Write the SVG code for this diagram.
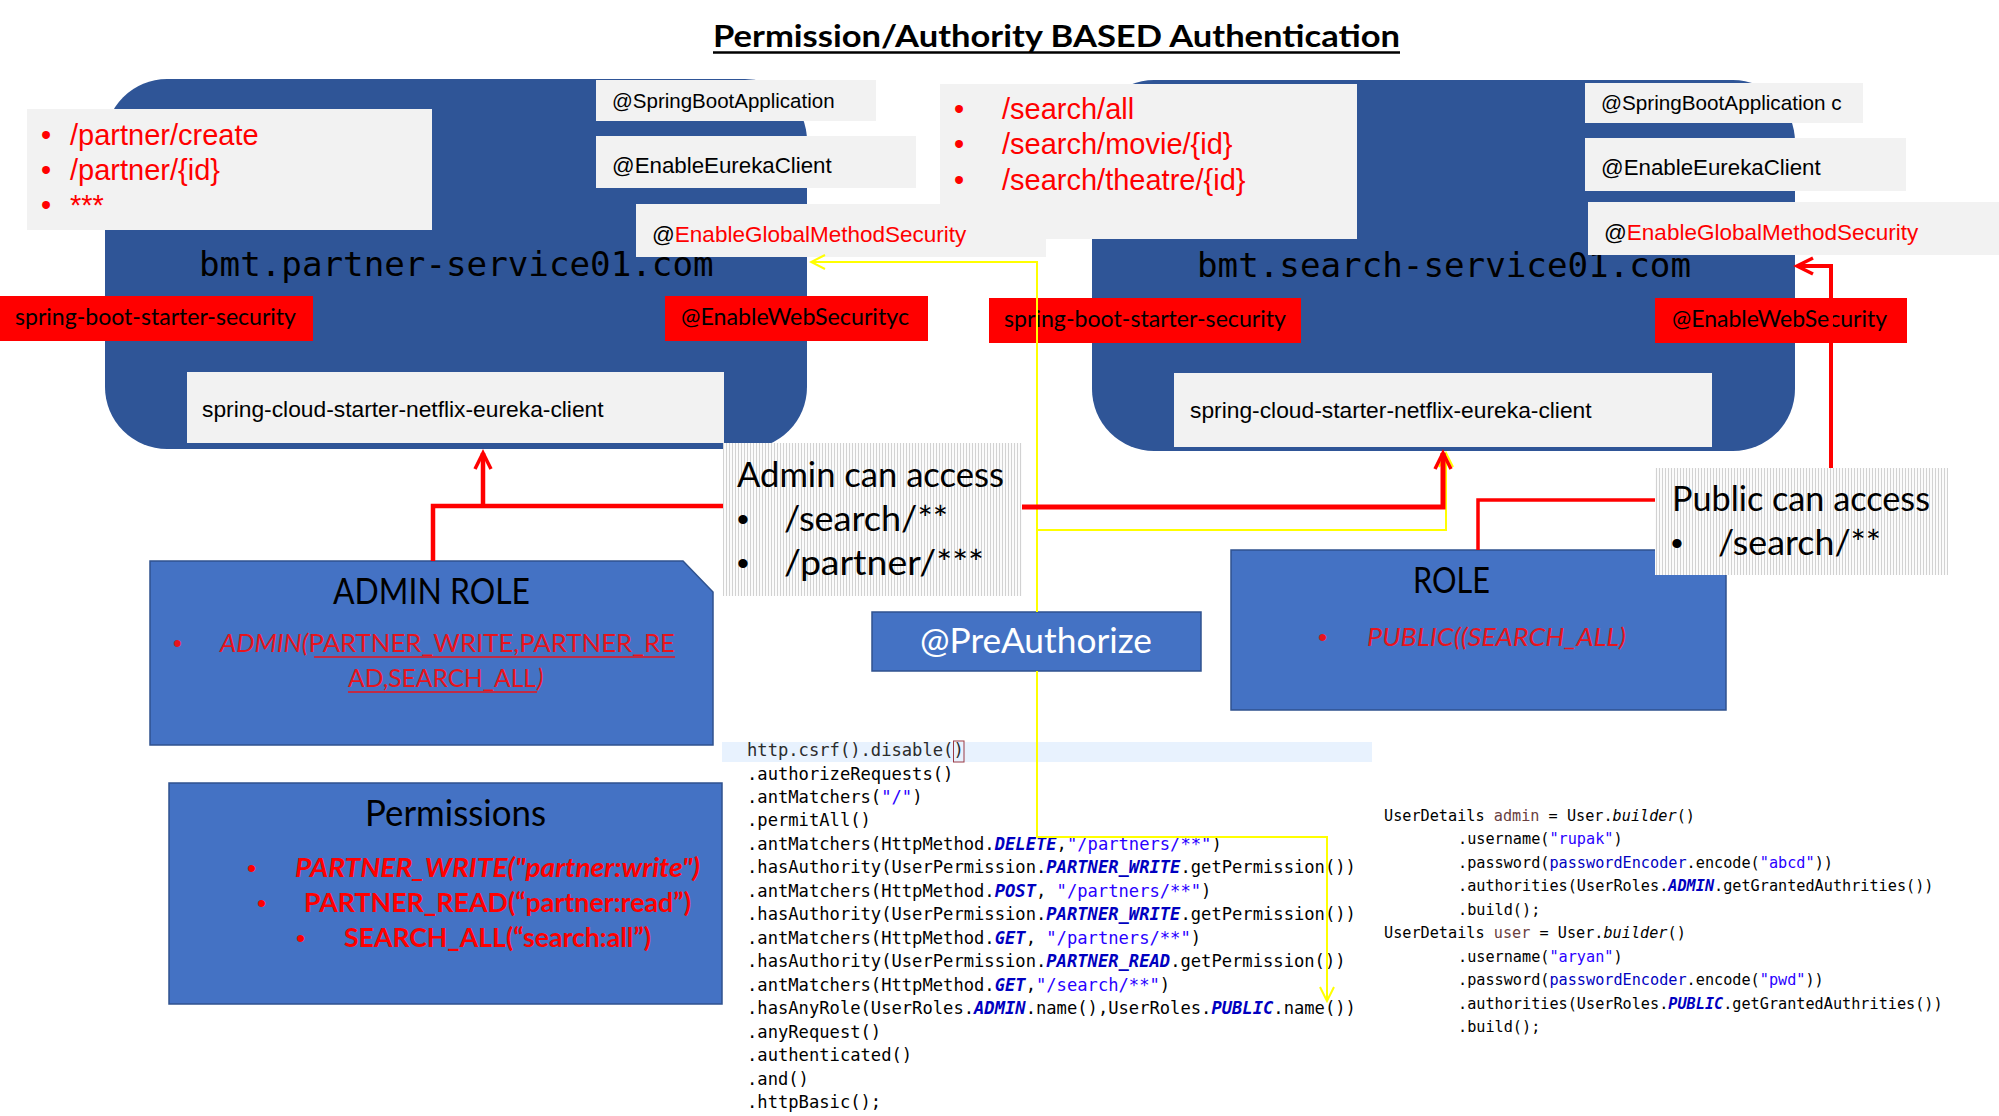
<svg xmlns="http://www.w3.org/2000/svg" width="1999" height="1116" viewBox="0 0 1999 1116">
<style>
.cal{font-family:Lato,"Open Sans","Liberation Sans",sans-serif}
.ari{font-family:"Liberation Sans",Arial,sans-serif}
.mono{font-family:"DejaVu Sans Mono","Liberation Mono",monospace}
.svc{fill:#2F5597}
.gray{fill:#F2F2F2}
.redbox{fill:#FF0000}
.role{fill:#4472C4;stroke:#2F528F;stroke-width:1.5}
.c1{font-family:"DejaVu Sans Mono","Liberation Mono",monospace;font-size:17.15px;fill:#000}
.c2{font-family:"DejaVu Sans Mono","Liberation Mono",monospace;font-size:15.2px;fill:#000}
.s{fill:#2A00FF}
.k{fill:#0000C0;font-style:italic;font-weight:bold}
.v{fill:#6A3E3E}
.f{fill:#0000C0}
.it{font-style:italic}
.rl{fill:none;stroke:#FF0000}
.yl{fill:none;stroke:#FFFF00;stroke-width:2}
</style>
<defs>
<pattern id="hatch" width="3" height="4" patternUnits="userSpaceOnUse"><rect width="3" height="4" fill="#fbfbfb"/><rect width="1" height="4" fill="#d2d2d2"/></pattern>
<marker id="arR" viewBox="-20 -12 24 24" refX="0" refY="0" markerWidth="24" markerHeight="24" markerUnits="userSpaceOnUse" orient="auto"><path d="M-16,-8 L0,0 L-16,8" fill="none" stroke="#FF0000" stroke-width="3.5"/></marker>
<marker id="arY" viewBox="-18 -10 20 20" refX="0" refY="0" markerWidth="20" markerHeight="20" markerUnits="userSpaceOnUse" orient="auto"><path d="M-14,-7 L0,0 L-14,7" fill="none" stroke="#FFFF00" stroke-width="2"/></marker>
</defs>
<rect width="1999" height="1116" fill="#FFFFFF"/>

<g id="title">
<text x="713" y="47" class="cal" font-size="31" font-weight="bold" textLength="687" lengthAdjust="spacingAndGlyphs">Permission/Authority BASED Authentication</text>
<line x1="713" y1="52.5" x2="1400" y2="52.5" stroke="#000" stroke-width="2.5"/>
</g>

<g id="partner-service">
<rect class="svc" x="105" y="79" width="702" height="370" rx="62"/>
<text x="199" y="276" class="mono" font-size="34.2" fill="#000">bmt.partner-service01.com</text>
</g>

<g id="search-service">
<rect class="svc" x="1092" y="80" width="703" height="371" rx="62"/>
<text x="1197" y="277" class="mono" font-size="34.2" fill="#000">bmt.search-service01.com</text>
</g>

<g id="partner-endpoints">
<rect class="gray" x="27" y="109" width="405" height="121"/>
<g class="ari" font-size="29" fill="#FF0000">
<text x="41" y="145">•</text><text x="70" y="145">/partner/create</text>
<text x="41" y="180">•</text><text x="70" y="180">/partner/{id}</text>
<text x="41" y="215">•</text><text x="70" y="215">***</text>
</g>
</g>

<g id="search-endpoints">
<rect class="gray" x="940" y="84" width="417" height="155"/>
<g class="ari" font-size="29" fill="#FF0000">
<text x="954" y="119">•</text><text x="1002" y="119">/search/all</text>
<text x="954" y="154">•</text><text x="1002" y="154">/search/movie/{id}</text>
<text x="954" y="190">•</text><text x="1002" y="190">/search/theatre/{id}</text>
</g>
</g>

<g id="partner-springboot">
<rect class="gray" x="596" y="80" width="280" height="41"/>
<text x="612" y="108" class="ari" font-size="20.5">@SpringBootApplication</text>
</g>
<g id="partner-eureka-annot">
<rect class="gray" x="596" y="136" width="320" height="52"/>
<text x="612" y="173" class="ari" font-size="22.3">@EnableEurekaClient</text>
</g>
<g id="partner-globalmethod">
<rect class="gray" x="636" y="204" width="410" height="53"/>
<text x="652" y="242" class="ari" font-size="22.5">@<tspan fill="#FF0000">EnableGlobalMethodSecurity</tspan></text>
</g>
<g id="partner-starter-security">
<rect class="redbox" x="0" y="296" width="313" height="45"/>
<text x="15" y="325" class="cal" font-size="24" textLength="281" lengthAdjust="spacingAndGlyphs">spring-boot-starter-security</text>
</g>
<g id="partner-websecurity">
<rect class="redbox" x="665" y="296" width="263" height="45"/>
<text x="681" y="325" class="cal" font-size="24" textLength="228" lengthAdjust="spacingAndGlyphs">@EnableWebSecurityc</text>
</g>
<g id="partner-eureka-client">
<rect class="gray" x="187" y="372" width="537" height="71"/>
<text x="202" y="417" class="ari" font-size="22.8">spring-cloud-starter-netflix-eureka-client</text>
</g>

<g id="search-springboot">
<rect class="gray" x="1585" y="83" width="278" height="40"/>
<text x="1601" y="110" class="ari" font-size="20.7">@SpringBootApplication c</text>
</g>
<g id="search-eureka-annot">
<rect class="gray" x="1585" y="138" width="321" height="53"/>
<text x="1601" y="175" class="ari" font-size="22.3">@EnableEurekaClient</text>
</g>
<g id="search-globalmethod">
<rect class="gray" x="1588" y="202" width="411" height="53"/>
<text x="1604" y="240" class="ari" font-size="22.5">@<tspan fill="#FF0000">EnableGlobalMethodSecurity</tspan></text>
</g>
<g id="search-starter-security">
<rect class="redbox" x="989" y="298" width="312" height="45"/>
<text x="1004" y="327" class="cal" font-size="24" textLength="282" lengthAdjust="spacingAndGlyphs">spring-boot-starter-security</text>
</g>
<g id="search-websecurity">
<rect class="redbox" x="1655" y="298" width="252" height="45"/>
<text x="1672" y="327" class="cal" font-size="24" textLength="215" lengthAdjust="spacingAndGlyphs">@EnableWebSecurity</text>
</g>
<g id="search-eureka-client">
<rect class="gray" x="1174" y="373" width="538" height="74"/>
<text x="1190" y="418" class="ari" font-size="22.8">spring-cloud-starter-netflix-eureka-client</text>
</g>

<g id="admin-access">
<rect x="723" y="443" width="299" height="153" fill="url(#hatch)"/>
<text x="737" y="487" class="cal" font-size="35" textLength="267" lengthAdjust="spacingAndGlyphs">Admin can access</text>
<text x="737" y="531" class="ari" font-size="34">•</text>
<text x="784" y="531" class="cal" font-size="35" textLength="164" lengthAdjust="spacingAndGlyphs">/search/**</text>
<text x="737" y="575" class="ari" font-size="34">•</text>
<text x="784" y="575" class="cal" font-size="35" textLength="200" lengthAdjust="spacingAndGlyphs">/partner/***</text>
</g>

<g id="admin-role">
<polygon class="role" points="150,561 683,561 713,592 713,745 150,745"/>
<text x="333" y="604" class="cal" font-size="36" textLength="197" lengthAdjust="spacingAndGlyphs">ADMIN ROLE</text>
<text x="173" y="652" class="ari" font-size="25" fill="#E8141C">•</text>
<text x="220" y="652" class="cal" font-size="25" fill="#E8141C" textLength="455" lengthAdjust="spacingAndGlyphs"><tspan font-style="italic">ADMIN(</tspan>PARTNER_WRITE,PARTNER_RE</text>
<line x1="314" y1="657" x2="675" y2="657" stroke="#E8141C" stroke-width="1.6"/>
<text x="348" y="687" class="cal" font-size="25" fill="#E8141C" textLength="188" lengthAdjust="spacingAndGlyphs">AD,SEARCH_ALL</text>
<text x="537" y="687" class="cal" font-size="25" fill="#E8141C" font-style="italic">)</text>
<line x1="348" y1="692" x2="537" y2="692" stroke="#E8141C" stroke-width="1.6"/>
</g>

<g id="permissions">
<rect class="role" x="169" y="783" width="553" height="221"/>
<text x="365" y="826" class="cal" font-size="36" textLength="181" lengthAdjust="spacingAndGlyphs">Permissions</text>
<g fill="#FF0000">
<text x="247" y="877" class="ari" font-size="26">•</text>
<text x="295" y="877" class="cal" font-size="27" font-weight="bold" font-style="italic" textLength="405" lengthAdjust="spacingAndGlyphs">PARTNER_WRITE("partner:write")</text>
<text x="257" y="912" class="ari" font-size="26">•</text>
<text x="304" y="912" class="cal" font-size="27" font-weight="bold" textLength="387" lengthAdjust="spacingAndGlyphs">PARTNER_READ(“partner:read”)</text>
<text x="296" y="947" class="ari" font-size="26">•</text>
<text x="344" y="947" class="cal" font-size="27" font-weight="bold" textLength="307" lengthAdjust="spacingAndGlyphs">SEARCH_ALL(“search:all”)</text>
</g>
</g>

<g id="preauthorize">
<rect class="role" x="872" y="612" width="329" height="59"/>
<text x="920" y="653" class="cal" font-size="34" fill="#FFFFFF" textLength="232" lengthAdjust="spacingAndGlyphs">@PreAuthorize</text>
</g>

<g id="public-role">
<rect class="role" x="1231" y="550" width="495" height="160"/>
<text x="1413" y="593" class="cal" font-size="36" textLength="77" lengthAdjust="spacingAndGlyphs">ROLE</text>
<text x="1318" y="646" class="ari" font-size="26" fill="#E8141C">•</text>
<text x="1367" y="646" class="cal" font-size="26" font-style="italic" fill="#E8141C" textLength="259" lengthAdjust="spacingAndGlyphs">PUBLIC((SEARCH_ALL)</text>
</g>

<g id="public-access">
<rect x="1655" y="468" width="293" height="107" fill="url(#hatch)"/>
<text x="1672" y="511" class="cal" font-size="35" textLength="258" lengthAdjust="spacingAndGlyphs">Public can access</text>
<text x="1671" y="555" class="ari" font-size="34">•</text>
<text x="1718" y="555" class="cal" font-size="35" textLength="163" lengthAdjust="spacingAndGlyphs">/search/**</text>
</g>

<g id="security-config-code">
<rect x="722" y="742" width="650" height="20" fill="#E8F2FE"/>
<rect x="953.5" y="741" width="10.5" height="21" fill="none" stroke="#9A3A46" stroke-width="1"/>
<g class="c1" xml:space="preserve">
<text x="747" y="756" fill="#2b2b2b">http.csrf().disable()</text>
<text x="747" y="779.5">.authorizeRequests()</text>
<text x="747" y="802.9">.antMatchers(<tspan class="s">"/"</tspan>)</text>
<text x="747" y="826.4">.permitAll()</text>
<text x="747" y="849.9">.antMatchers(HttpMethod.<tspan class="k">DELETE</tspan>,<tspan class="s">"/partners/**"</tspan>)</text>
<text x="747" y="873.4">.hasAuthority(UserPermission.<tspan class="k">PARTNER_WRITE</tspan>.getPermission())</text>
<text x="747" y="896.8">.antMatchers(HttpMethod.<tspan class="k">POST</tspan>, <tspan class="s">"/partners/**"</tspan>)</text>
<text x="747" y="920.3">.hasAuthority(UserPermission.<tspan class="k">PARTNER_WRITE</tspan>.getPermission())</text>
<text x="747" y="943.8">.antMatchers(HttpMethod.<tspan class="k">GET</tspan>, <tspan class="s">"/partners/**"</tspan>)</text>
<text x="747" y="967.2">.hasAuthority(UserPermission.<tspan class="k">PARTNER_READ</tspan>.getPermission())</text>
<text x="747" y="990.7">.antMatchers(HttpMethod.<tspan class="k">GET</tspan>,<tspan class="s">"/search/**"</tspan>)</text>
<text x="747" y="1014.2">.hasAnyRole(UserRoles.<tspan class="k">ADMIN</tspan>.name(),UserRoles.<tspan class="k">PUBLIC</tspan>.name())</text>
<text x="747" y="1037.6">.anyRequest()</text>
<text x="747" y="1061.1">.authenticated()</text>
<text x="747" y="1084.6">.and()</text>
<text x="747" y="1108.1">.httpBasic();</text>
</g>
</g>

<g id="user-details-code">
<g class="c2" xml:space="preserve">
<text x="1384" y="821">UserDetails <tspan class="v">admin</tspan> = User.<tspan class="it">builder</tspan>()</text>
<text x="1458" y="844.4">.username(<tspan class="s">"rupak"</tspan>)</text>
<text x="1458" y="867.9">.password(<tspan class="f">passwordEncoder</tspan>.encode(<tspan class="s">"abcd"</tspan>))</text>
<text x="1458" y="891.3">.authorities(UserRoles.<tspan class="k">ADMIN</tspan>.getGrantedAuthrities())</text>
<text x="1458" y="914.8">.build();</text>
<text x="1384" y="938.2">UserDetails <tspan class="v">user</tspan> = User.<tspan class="it">builder</tspan>()</text>
<text x="1458" y="961.6">.username(<tspan class="s">"aryan"</tspan>)</text>
<text x="1458" y="985.1">.password(<tspan class="f">passwordEncoder</tspan>.encode(<tspan class="s">"pwd"</tspan>))</text>
<text x="1458" y="1008.5">.authorities(UserRoles.<tspan class="k">PUBLIC</tspan>.getGrantedAuthrities())</text>
<text x="1458" y="1032">.build();</text>
</g>
</g>

<g id="connectors">
<path class="yl" d="M1037,612 V262 H811" marker-end="url(#arY)"/>
<path class="yl" d="M1037,530 H1446 V453" marker-end="url(#arY)"/>
<path class="yl" d="M1037,671 V837 H1327 V1001" marker-end="url(#arY)"/>
<path class="rl" stroke-width="4.5" d="M433,561 V506 H723"/>
<path class="rl" stroke-width="4.5" d="M483,506 V453" marker-end="url(#arR)"/>
<path class="rl" stroke-width="5" d="M1022,507 H1443 V453" marker-end="url(#arR)"/>
<path class="rl" stroke-width="3.5" d="M1478,550 V500 H1655"/>
<path class="rl" stroke-width="4" d="M1831,468 V266 H1797" marker-end="url(#arR)"/>
</g>
</svg>
